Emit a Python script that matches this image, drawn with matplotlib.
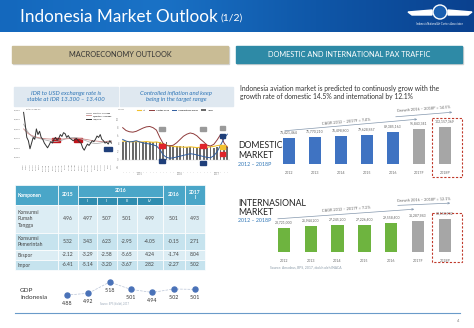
import numpy as np
import matplotlib.pyplot as plt
from matplotlib.patches import Rectangle, Polygon, Circle
from matplotlib.colors import LinearSegmentedColormap

plt.rcParams['font.family'] = ['Lato', 'DejaVu Sans']

W, H = 474, 328

# ---- data ----
years = ["2012", "2013", "2014", "2015", "2016", "2017F", "2018P"]
domestic = [71421464, 75770210, 76498800, 79628867, 89385163, 95843341, 102157369]
international = [23721000, 25944200, 27245200, 27226400, 29558400, 31287943, 33153932]

tbl_cols = ["2015", "I", "II", "III", "IV", "2016", "2017\nI"]
komponen = ["Konsumsi\nRumah\nTangga", "Konsumsi\nPemerintah", "Ekspor", "Impor"]
tbl_vals = [
    [4.96, 4.97, 5.07, 5.01, 4.99, 5.01, 4.93],
    [5.32, 3.43, 6.23, -2.95, -4.05, -0.15, 2.71],
    [-2.12, -3.29, -2.58, -5.65, 4.24, -1.74, 8.04],
    [-6.41, -5.14, -3.20, -3.67, 2.82, -2.27, 5.02],
]
gdp = [4.88, 4.92, 5.18, 5.01, 4.94, 5.02, 5.01]

idr = [13950, 13700, 13420, 13350, 13180, 13300, 13420, 13380, 13600, 13480,
       13550, 13420, 13380, 13300, 13250, 13200, 13260, 13330, 13300, 13380,
       13420, 13360, 13400, 13480, 13440, 13520, 13500, 13420, 13460, 13400,
       13380, 13350, 13370, 13400, 13360, 13320, 13300, 13200, 13150, 13220,
       13280, 13250, 13300, 13350, 13330, 13380, 13450, 13420, 13480, 13380,
       13350, 13300, 13320, 13280, 13350, 13300]
idr_ma1 = [13700, 13550, 13450, 13420, 13400, 13380, 13360, 13340, 13330, 13340,
           13360, 13390, 13410, 13420, 13410, 13390, 13360, 13330, 13300, 13290,
           13300, 13320, 13340, 13350]
idr_ma2 = [13600, 13500, 13450, 13420, 13400, 13390, 13385, 13380, 13385, 13390,
           13395, 13400, 13395, 13385, 13370, 13350, 13340, 13330, 13330, 13335]
idr_dates = ["2-Jan", "9-Jan", "16-Jan", "23-Jan", "30-Jan", "6-Feb", "13-Feb",
             "20-Feb", "27-Feb", "6-Mar", "13-Mar", "20-Mar", "27-Mar", "3-Apr",
             "10-Apr", "17-Apr", "24-Apr", "1-May", "8-May", "15-May", "22-May",
             "29-May", "5-Jun", "12-Jun", "19-Jun", "26-Jun", "3-Jul", "10-Jul"]

infl_bars = [4.5, 4.4, 4.3, 4.4, 4.3, 4.3, 4.4, 4.3, 4.4, 4.3, 4.4, 4.3, 4.2, 4.3,
             3.6, 3.5, 3.4, 3.3, 3.3, 3.2, 3.2, 3.1, 3.1, 3.2, 3.1, 3.0, 3.1, 3.0,
             3.1, 3.2, 3.0, 3.1]
infl_red = [7.9, 7.2, 6.9, 6.8, 7.0, 7.4, 7.8, 8.1, 8.2, 7.9, 7.3, 5.5, 4.0, 3.5,
            3.4, 3.6, 4.2, 5.0, 5.8, 6.3, 6.6, 6.4, 5.9, 5.1, 4.4, 3.6, 3.4, 3.8,
            4.9, 6.2, 4.2, 3.0]
infl_blue = [5.0, 4.6, 4.4, 4.5, 4.7, 4.4, 4.2, 4.0, 3.9, 3.7, 3.4, 2.6, 1.2, 0.6,
             0.4, 0.5, 0.7, 0.9, 1.1, 1.3, 1.5, 1.4, 1.2, 1.0, 0.8, 0.6, 0.5, 1.0,
             2.0, 3.6, 5.2, 6.3]
infl_yellow = [4.6, 4.5, 4.5, 4.4, 4.5, 4.4, 4.4, 4.5, 4.4, 4.3, 4.4, 4.2, 3.9, 3.6,
               3.4, 3.3, 3.2, 3.2, 3.1, 3.1, 3.2, 3.1, 3.0, 3.1, 3.0, 3.1, 3.2, 3.3,
               3.5, 3.6, 3.4, 3.3]
infl_years = ["2015", "2016", "2017"]

fig = plt.figure(figsize=(W / 100, H / 100), dpi=100)


def px_axes(x0, y0, x1, y1):
    return fig.add_axes([x0 / W, 1 - y1 / H, (x1 - x0) / W, (y1 - y0) / H])


# background canvas in pixel coordinates
bg = fig.add_axes([0, 0, 1, 1])
bg.axis('off')

# title bar
grad = np.linspace(0, 1, 256).reshape(1, -1)
cmap = LinearSegmentedColormap.from_list('bar', ['#1468bd', '#1a72c6', '#0f57a8', '#0a418f'])
bg.imshow(grad, extent=(0, W, 32, 0), aspect='auto', cmap=cmap)
bg.set_xlim(0, W)
bg.set_ylim(H, 0)
title = bg.text(20, 17, "Indonesia Market Outlook", color='white', fontsize=12.3, va='center')
rend = fig.canvas.get_renderer()
tx1 = title.get_window_extent(rend).x1
bg.text(tx1 + 3, 18.5, "(1/2)", color='white', fontsize=7.5, va='center')

# logo
bg.add_patch(Polygon([[408, 12], [432, 10], [432, 15], [412, 15]], color='white'))
bg.add_patch(Polygon([[472, 12], [448, 10], [448, 15], [468, 15]], color='white'))
bg.add_patch(Circle((440, 12), 7, facecolor='#1a5fb0', edgecolor='white', lw=1))
bg.text(440, 24, "Indonesia National Air Carriers Association", color='white',
        fontsize=1.8, ha='center', va='center')

# section headers
bg.add_patch(Rectangle((13, 47), 216, 17, color='#d4d4d4'))
bg.add_patch(Rectangle((12, 46), 216, 17, color='#c9bc95'))
bg.text(120, 54.5, "MACROECONOMY OUTLOOK", fontsize=5.3, ha='center', va='center', color='#333333')
bg.add_patch(Rectangle((237, 47), 226, 17, color='#d4d4d4'))
bg.add_patch(Rectangle((236, 46), 226, 17, color='#2e8aa6'))
bg.text(349, 54.5, "DOMESTIC AND INTERNATIONAL PAX TRAFFIC", fontsize=5.3, ha='center',
        va='center', color='white')

# caption boxes
bg.add_patch(Rectangle((14, 87), 104, 19, color='#dfe8f0'))
bg.text(66, 96.5, "IDR to USD exchange rate is\nstable at IDR 13.300 \u2013 13.400",
        fontsize=4.3, style='italic', color='#2e75b6', ha='center', va='center', linespacing=1.3)
bg.add_patch(Rectangle((120, 87), 113, 19, color='#dfe8f0'))
bg.text(176, 96.5, "Controlled inflation and keep\nbeing in the target range",
        fontsize=4.3, style='italic', color='#2e75b6', ha='center', va='center', linespacing=1.3)

# exchange rate chart
ax1 = px_axes(22, 110, 113, 162)
ax1.set_facecolor('none')
ax1.plot(np.linspace(0, len(idr) - 1, len(idr_ma1)), idr_ma1, color='#b0b0b0', lw=0.6, label='Monthly Average')
ax1.plot(np.linspace(0, len(idr) - 1, len(idr_ma2)), idr_ma2, color='#c98a8a', lw=0.6, label='Quarterly Average')
ax1.plot(range(len(idr)), idr, color='#333333', lw=0.7, label='IDR/USD')
ax1.set_ylim(12900, 14000)
ax1.set_xlim(-1, len(idr))
ax1.set_yticks([13000, 13200, 13400, 13600, 13800, 14000])
ax1.set_yticklabels(["13,000", "13,200", "13,400", "13,600", "13,800", "14,000"])
ax1.set_xticks(np.linspace(0, len(idr) - 1, len(idr_dates)))
ax1.set_xticklabels(idr_dates, rotation=90)
ax1.tick_params(labelsize=1.6, length=0, pad=1, colors='#777777')
for s in ax1.spines.values():
    s.set_visible(False)
ax1.legend(loc='upper right', fontsize=1.6, frameon=False, handlelength=2)
ax1.text(0.04, 1.0, "Rates 2 Jan 17", transform=ax1.transAxes, fontsize=1.6, color='#555555')
for x, c in [(52, '#c0151c'), (74, '#c0151c'), (104, '#1f3f7a')]:
    bg.add_patch(Rectangle((x, 138 if c != '#1f3f7a' else 147), 8, 4, color=c, zorder=5))

# inflation chart
ax2 = px_axes(120, 111, 230, 170)
ax2.set_facecolor('none')
xi = np.arange(len(infl_bars))
ax2.bar(xi, infl_bars, width=0.55, color='#6b6b6b', label='Inflasi')
ax2.plot(xi, infl_yellow, color='#f2c12e', lw=0.8, label='Inti')
ax2.plot(xi, infl_red, color='#8e3b3b', lw=0.7, label='Volatile Food')
ax2.plot(xi, infl_blue, color='#2f5c9e', lw=0.7, label='Administered Prices')
ax2.set_ylim(-2.5, 12)
ax2.set_xlim(-0.8, len(infl_bars) - 0.2)
ax2.set_yticks([-2, 0, 2, 4, 6, 8, 10])
ax2.set_xticks(xi)
ax2.set_xticklabels(['\u00b7'] * len(xi))
ax2.tick_params(labelsize=1.8, length=0, pad=1, colors='#888888')
for s in ax2.spines.values():
    s.set_visible(False)
ax2.axhline(0, color='#cccccc', lw=0.3)
ax2.legend(loc='lower center', bbox_to_anchor=(0.5, 0.97), ncol=4, fontsize=1.6, frameon=False,
           handlelength=2, columnspacing=1.5)
ax2.text(-1.5, 12.3, "% yoy", fontsize=1.6, color='#555555')
for i, yr in enumerate(infl_years):
    ax2.text([5, 17, 28][i], -3.8, yr, fontsize=1.8, color='#888888', ha='center')
boxes = [(11.7, 7.6, '#9a9a9a'), (23.8, 7.6, '#9a9a9a'), (29.5, 7.8, '#9a9a9a'),
         (11.7, 3.4, '#e0242a'), (23.8, 3.4, '#e0242a'), (29.5, 1.4, '#e0242a'),
         (11.7, -0.3, '#1f3f7a'), (23.8, -0.8, '#1f3f7a'), (29.5, 5.85, '#1f3f7a'),
         (29.5, 3.15, '#f2c12e')]
for bx, by, bc in boxes:
    ax2.add_patch(Rectangle((bx - 0.8, by - 0.55), 1.6, 1.1, color=bc, zorder=5))

# table
cx = [15, 58, 78, 97, 117, 137, 163, 185, 205]
hdr = '#4aa6c8'
sub = '#2f8db0'
for i in range(8):
    if 2 <= i <= 5:
        continue
    bg.add_patch(Rectangle((cx[i], 185), cx[i + 1] - cx[i], 20, facecolor=hdr, edgecolor='white', lw=0.5))
bg.add_patch(Rectangle((cx[2], 185), cx[6] - cx[2], 12, facecolor=hdr, edgecolor='white', lw=0.5))
for i in range(2, 6):
    bg.add_patch(Rectangle((cx[i], 197), cx[i + 1] - cx[i], 8, facecolor=sub, edgecolor='white', lw=0.5))
bg.text(18, 195, "Komponen", fontsize=3.6, color='white', weight='bold', va='center')
bg.text((cx[1] + cx[2]) / 2, 195, tbl_cols[0], fontsize=3.6, color='white', weight='bold', ha='center', va='center')
bg.text((cx[2] + cx[6]) / 2, 191, "2016", fontsize=3.6, color='white', weight='bold', ha='center', va='center')
for i in range(1, 5):
    bg.text((cx[i + 1] + cx[i + 2]) / 2, 201, tbl_cols[i], fontsize=3.2, color='white', ha='center', va='center')
bg.text((cx[6] + cx[7]) / 2, 195, tbl_cols[5], fontsize=3.6, color='white', weight='bold', ha='center', va='center')
bg.text((cx[7] + cx[8]) / 2, 195, tbl_cols[6], fontsize=3.6, color='white', weight='bold', ha='center',
        va='center', linespacing=1.2)
ry = [205, 233, 250, 260, 270]
rc = ['#dcedf4', '#c6e3ee', '#dcedf4', '#c6e3ee']
for r in range(4):
    for i in range(8):
        bg.add_patch(Rectangle((cx[i], ry[r]), cx[i + 1] - cx[i], ry[r + 1] - ry[r],
                               facecolor=rc[r], edgecolor='white', lw=0.5))
    ym = (ry[r] + ry[r + 1]) / 2
    bg.text(18, ym, komponen[r], fontsize=3.6, color='#444444', va='center', linespacing=1.25)
    for i, v in enumerate(tbl_vals[r]):
        bg.text((cx[i + 1] + cx[i + 2]) / 2, ym, f"{v:.2f}", fontsize=3.6, color='#444444',
                ha='center', va='center')

# GDP strip
bg.text(20, 294, "GDP\nIndonesia", fontsize=4.6, color='#333333', va='center', linespacing=1.3)
ax3 = px_axes(56.3, 276, 205.6, 300)
ax3.axis('off')
ax3.plot(range(len(gdp)), gdp, color='#b9c4d6', lw=0.5, ls='--')
ax3.plot(range(len(gdp)), gdp, 'o', color='#4a72b8', ms=3.6)
for i, v in enumerate(gdp):
    ax3.annotate(f"{v:.2f}", (i, v), xytext=(0, -6), textcoords='offset points',
                 fontsize=3.8, color='#333333', ha='center', va='center')
ax3.set_xlim(-0.5, 6.5)
ax3.set_ylim(4.765, 5.32)
bg.text(100, 304, "Source: BPS (diolah), 2017", fontsize=1.8, color='#9aa8b8')

# bottom rule and page number
bg.plot([15, 460], [313, 313], color='#6a9bc9', lw=0.8)
bg.text(458, 321, "4", fontsize=3, color='#888888', ha='center', va='center')

# right text
bg.text(240, 89, "Indonesia aviation market is predicted to continuosly grow with the",
        fontsize=4.9, color='#333333', va='center')
bg.text(240, 96, "growth rate of domestic 14.5% and international by 12.1%",
        fontsize=4.9, color='#333333', va='center')


def market_chart(x0, x1, ytop, ybot, vals, top, colors):
    ax = px_axes(x0, ytop, x1, ybot)
    ax.set_facecolor('none')
    xs = np.arange(len(vals))
    ax.bar(xs, vals, width=0.46, color=colors)
    for x, v in zip(xs, vals):
        ax.annotate(f"{v:,}", (x, v), xytext=(0, 2.5), textcoords='offset points',
                    fontsize=2.5, color='#666666', ha='center', va='bottom')
    ax.set_xlim(-0.5, len(vals) - 0.5)
    ax.set_ylim(0, top)
    ax.set_yticks([])
    ax.set_xticks(xs)
    ax.set_xticklabels(years)
    ax.tick_params(labelsize=2.6, length=0, pad=5, colors='#666666')
    for s in ax.spines.values():
        s.set_visible(False)
    return ax


dom_cols = ['#3f73c2'] * 5 + ['#a6a6a6'] * 2
int_cols = ['#6eb43f'] * 5 + ['#a6a6a6'] * 2
market_chart(276, 458, 118, 164, domestic, 127e6, dom_cols)
market_chart(270.6, 458.2, 205, 252, international, 47.2e6, int_cols)

bg.text(238, 146, "DOMESTIC", fontsize=6.3, color='#222222', va='center')
bg.text(238, 156, "MARKET", fontsize=6.3, color='#222222', va='center')
bg.text(238, 165, "2012 \u2013 2018P", fontsize=3.8, color='#2e75b6', va='center')
bg.text(238, 203, "INTERNASIONAL", fontsize=6.3, color='#222222', va='center')
bg.text(238, 212.5, "MARKET", fontsize=6.3, color='#222222', va='center')
bg.text(238, 220.5, "2012 \u2013 2018P", fontsize=3.8, color='#2e75b6', va='center')

# forecast boxes
bg.add_patch(Rectangle((432, 118), 30, 59, fill=False, ec='#c0392b', ls=(0, (2, 1.5)), lw=0.8))
bg.add_patch(Rectangle((432, 213), 30, 49, fill=False, ec='#c0392b', ls=(0, (2, 1.5)), lw=0.8))

# growth arrows
arrow_kw = dict(arrowstyle='->', color='#8497ad', lw=0.5, mutation_scale=3)
bg.annotate("", xy=(420, 119), xytext=(282, 131), arrowprops=arrow_kw)
bg.text(346, 121.5, "CAGR 2012 \u2013 2017F = 7.4%", fontsize=2.8, color='#666666',
        ha='center', va='center', rotation=5)
bg.annotate("", xy=(455, 112), xytext=(393, 117), arrowprops=arrow_kw)
bg.text(424, 109.5, "Growth 2016 \u2013 2018P = 14.5%", fontsize=2.8, color='#666666',
        ha='center', va='center', rotation=4)
bg.annotate("", xy=(417, 209), xytext=(275, 219), arrowprops=arrow_kw)
bg.text(346, 209.5, "CAGR 2012 \u2013 2017F = 7.2%", fontsize=2.8, color='#666666',
        ha='center', va='center', rotation=4)
bg.annotate("", xy=(453, 203), xytext=(395, 205.5), arrowprops=arrow_kw)
bg.text(424, 200, "Growth 2016 \u2013 2018P = 12.1%", fontsize=2.8, color='#666666',
        ha='center', va='center', rotation=2)
bg.text(270, 267, "Source: Amadeus, BPS, 2017, diolah oleh INACA", fontsize=2.4, color='#8a9aa8',
        va='center')

fig.savefig("out.png", dpi=100)
